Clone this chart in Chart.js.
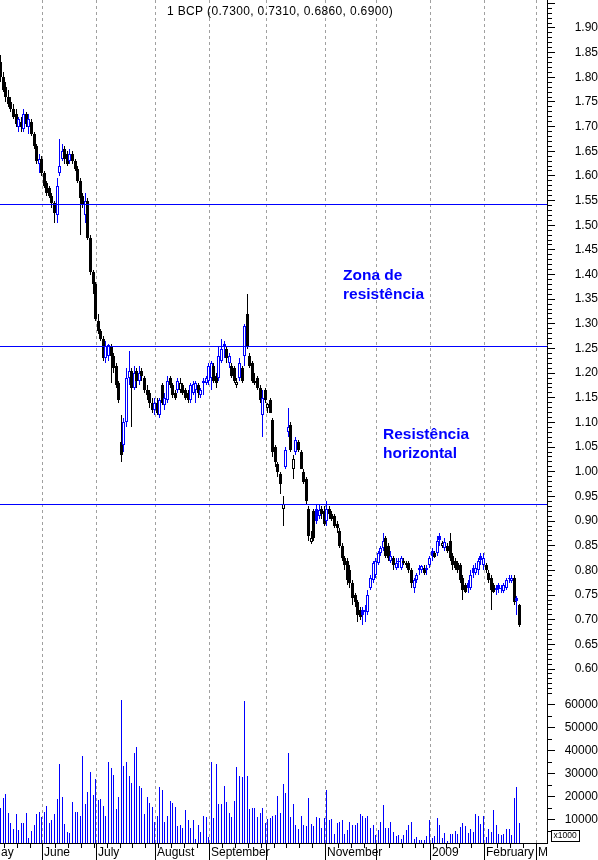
<!DOCTYPE html>
<html lang="pt">
<head>
<meta charset="utf-8">
<title>BCP</title>
<script src="https://cdn.jsdelivr.net/npm/chart.js@4.4.1/dist/chart.umd.min.js"></script>
<style>
  html, body { margin: 0; padding: 0; background: #ffffff; }
  #stage { position: relative; width: 598px; height: 860px; overflow: hidden; background: #ffffff; }
  #price { position: absolute; left: 0; top: 0; }
  #volume { position: absolute; left: 0; top: 690px; }
</style>
</head>
<body>
<div id="stage">
  <canvas id="price" width="598" height="690"></canvas>
  <canvas id="volume" width="598" height="170"></canvas>
</div>
<script>
// ---- daily BCP quotes, one entry per trading session (May 2008 - Feb 2009) ----
const ticker = '1 BCP';

const open = [
  1.83, 1.80, 1.78, 1.76, 1.75, 1.735, 1.725, 1.70, 1.71, 1.695,
  1.725, 1.70, 1.71, 1.685, 1.66, 1.625, 1.635, 1.605, 1.585, 1.575,
  1.56, 1.545, 1.52, 1.605, 1.635, 1.655, 1.645, 1.63, 1.645, 1.63,
  1.615, 1.59, 1.56, 1.52, 1.55, 1.475, 1.405, 1.38, 1.305, 1.285,
  1.27, 1.23, 1.235, 1.255, 1.235, 1.215, 1.18, 1.06, 1.055, 1.10,
  1.19, 1.205, 1.17, 1.205, 1.185, 1.205, 1.19, 1.165, 1.16, 1.14,
  1.125, 1.14, 1.115, 1.175, 1.135, 1.145, 1.19, 1.175, 1.16, 1.165,
  1.165, 1.175, 1.165, 1.16, 1.145, 1.16, 1.165, 1.175, 1.155, 1.185,
  1.18, 1.185, 1.19, 1.215, 1.195, 1.19, 1.225, 1.26, 1.25, 1.22,
  1.215, 1.21, 1.175, 1.19, 1.21, 1.235, 1.32, 1.235, 1.22, 1.18,
  1.19, 1.17, 1.115, 1.165, 1.13, 1.145, 1.105, 1.05, 1.015, 0.995,
  0.925, 1.01, 1.08, 1.095, 1.005, 1.04, 1.06, 1.04, 1.00, 0.985,
  0.925, 0.858, 0.92, 0.925, 0.91, 0.925, 0.92, 0.90, 0.925, 0.915,
  0.91, 0.895, 0.88, 0.85, 0.825, 0.82, 0.80, 0.775, 0.75, 0.735,
  0.72, 0.72, 0.72, 0.715, 0.765, 0.78, 0.79, 0.815, 0.835, 0.845,
  0.865, 0.85, 0.82, 0.825, 0.805, 0.82, 0.805, 0.82, 0.815, 0.815,
  0.80, 0.765, 0.78, 0.80, 0.80, 0.805, 0.805, 0.81, 0.84, 0.835,
  0.835, 0.87, 0.85, 0.845, 0.85, 0.86, 0.83, 0.82, 0.815, 0.81,
  0.785, 0.77, 0.775, 0.765, 0.805, 0.795, 0.80, 0.83, 0.81, 0.81,
  0.795, 0.785, 0.77, 0.765, 0.77, 0.765, 0.758, 0.765, 0.785, 0.778,
  0.785, 0.745, 0.73
];

const high = [
  1.845, 1.81, 1.79, 1.775, 1.76, 1.745, 1.735, 1.72, 1.72, 1.735,
  1.73, 1.725, 1.715, 1.69, 1.665, 1.645, 1.64, 1.61, 1.59, 1.58,
  1.565, 1.55, 1.595, 1.675, 1.665, 1.66, 1.65, 1.655, 1.65, 1.635,
  1.62, 1.595, 1.565, 1.565, 1.555, 1.48, 1.41, 1.385, 1.32, 1.29,
  1.275, 1.265, 1.26, 1.26, 1.24, 1.22, 1.185, 1.115, 1.11, 1.21,
  1.245, 1.21, 1.215, 1.21, 1.215, 1.21, 1.195, 1.175, 1.165, 1.15,
  1.15, 1.15, 1.15, 1.18, 1.16, 1.195, 1.195, 1.18, 1.165, 1.19,
  1.19, 1.18, 1.17, 1.165, 1.18, 1.185, 1.185, 1.18, 1.17, 1.19,
  1.195, 1.22, 1.225, 1.22, 1.20, 1.255, 1.27, 1.265, 1.255, 1.24,
  1.22, 1.215, 1.19, 1.23, 1.215, 1.30, 1.36, 1.24, 1.225, 1.20,
  1.195, 1.175, 1.165, 1.17, 1.14, 1.15, 1.11, 1.055, 1.02, 1.00,
  0.95, 1.05, 1.13, 1.10, 1.035, 1.07, 1.065, 1.045, 1.005, 0.99,
  0.93, 0.88, 0.925, 0.935, 0.935, 0.93, 0.93, 0.94, 0.93, 0.92,
  0.915, 0.90, 0.885, 0.855, 0.83, 0.825, 0.81, 0.78, 0.755, 0.74,
  0.725, 0.725, 0.73, 0.76, 0.79, 0.82, 0.825, 0.84, 0.85, 0.875,
  0.87, 0.855, 0.84, 0.83, 0.825, 0.825, 0.83, 0.825, 0.82, 0.82,
  0.805, 0.785, 0.795, 0.81, 0.81, 0.81, 0.81, 0.83, 0.845, 0.84,
  0.87, 0.875, 0.86, 0.865, 0.855, 0.875, 0.835, 0.825, 0.82, 0.815,
  0.79, 0.775, 0.78, 0.80, 0.81, 0.815, 0.825, 0.835, 0.835, 0.815,
  0.80, 0.79, 0.775, 0.77, 0.775, 0.77, 0.775, 0.785, 0.79, 0.79,
  0.79, 0.748, 0.731
];

const low = [
  1.79, 1.77, 1.75, 1.74, 1.73, 1.715, 1.70, 1.69, 1.69, 1.69,
  1.70, 1.685, 1.68, 1.655, 1.625, 1.605, 1.60, 1.575, 1.56, 1.555,
  1.535, 1.505, 1.505, 1.60, 1.63, 1.625, 1.62, 1.625, 1.625, 1.61,
  1.585, 1.48, 1.535, 1.505, 1.47, 1.40, 1.36, 1.305, 1.28, 1.265,
  1.225, 1.22, 1.225, 1.18, 1.20, 1.17, 1.14, 1.02, 1.04, 1.09,
  1.175, 1.09, 1.165, 1.17, 1.175, 1.185, 1.16, 1.145, 1.13, 1.12,
  1.115, 1.115, 1.11, 1.135, 1.125, 1.14, 1.17, 1.15, 1.145, 1.16,
  1.16, 1.155, 1.145, 1.14, 1.14, 1.155, 1.14, 1.15, 1.15, 1.155,
  1.175, 1.175, 1.165, 1.18, 1.17, 1.185, 1.22, 1.23, 1.22, 1.21,
  1.19, 1.18, 1.17, 1.185, 1.18, 1.215, 1.25, 1.21, 1.18, 1.175,
  1.165, 1.14, 1.07, 1.14, 1.12, 1.12, 1.03, 1.01, 0.99, 0.955,
  0.89, 1.005, 1.07, 1.04, 0.985, 1.035, 1.04, 1.005, 0.975, 0.935,
  0.86, 0.853, 0.86, 0.895, 0.905, 0.905, 0.89, 0.89, 0.905, 0.90,
  0.885, 0.875, 0.845, 0.82, 0.80, 0.77, 0.765, 0.73, 0.725, 0.695,
  0.70, 0.69, 0.695, 0.71, 0.76, 0.775, 0.785, 0.81, 0.83, 0.84,
  0.825, 0.82, 0.815, 0.80, 0.80, 0.805, 0.80, 0.81, 0.805, 0.795,
  0.765, 0.755, 0.775, 0.79, 0.795, 0.79, 0.79, 0.805, 0.82, 0.825,
  0.83, 0.85, 0.845, 0.84, 0.835, 0.82, 0.80, 0.80, 0.795, 0.775,
  0.74, 0.755, 0.755, 0.76, 0.785, 0.79, 0.79, 0.81, 0.80, 0.795,
  0.775, 0.72, 0.755, 0.75, 0.755, 0.755, 0.755, 0.76, 0.775, 0.775,
  0.73, 0.71, 0.686
];

const close = [
  1.80, 1.775, 1.76, 1.745, 1.735, 1.72, 1.705, 1.715, 1.70, 1.725,
  1.705, 1.715, 1.685, 1.66, 1.63, 1.635, 1.605, 1.58, 1.565, 1.56,
  1.545, 1.525, 1.58, 1.62, 1.65, 1.635, 1.625, 1.645, 1.63, 1.615,
  1.59, 1.555, 1.54, 1.55, 1.475, 1.405, 1.38, 1.31, 1.285, 1.27,
  1.23, 1.255, 1.258, 1.235, 1.21, 1.175, 1.145, 1.035, 1.10, 1.19,
  1.205, 1.17, 1.20, 1.185, 1.20, 1.195, 1.165, 1.155, 1.14, 1.125,
  1.14, 1.12, 1.145, 1.14, 1.15, 1.185, 1.175, 1.155, 1.15, 1.185,
  1.18, 1.16, 1.15, 1.145, 1.175, 1.178, 1.18, 1.16, 1.165, 1.18,
  1.19, 1.215, 1.22, 1.185, 1.18, 1.235, 1.25, 1.255, 1.23, 1.235,
  1.195, 1.185, 1.182, 1.22, 1.185, 1.295, 1.255, 1.215, 1.185, 1.184,
  1.17, 1.145, 1.15, 1.145, 1.138, 1.12, 1.04, 1.02, 1.00, 0.975,
  0.935, 1.045, 1.09, 1.045, 1.025, 1.065, 1.045, 1.005, 0.98, 0.94,
  0.87, 0.866, 0.865, 0.90, 0.922, 0.915, 0.895, 0.925, 0.915, 0.905,
  0.89, 0.885, 0.85, 0.825, 0.81, 0.78, 0.775, 0.745, 0.735, 0.71,
  0.705, 0.71, 0.715, 0.75, 0.785, 0.815, 0.82, 0.835, 0.845, 0.86,
  0.83, 0.825, 0.83, 0.81, 0.815, 0.818, 0.825, 0.815, 0.81, 0.80,
  0.775, 0.78, 0.79, 0.805, 0.808, 0.795, 0.80, 0.825, 0.83, 0.828,
  0.86, 0.862, 0.855, 0.858, 0.84, 0.825, 0.81, 0.805, 0.80, 0.78,
  0.76, 0.757, 0.765, 0.79, 0.795, 0.805, 0.82, 0.822, 0.825, 0.80,
  0.78, 0.76, 0.757, 0.76, 0.762, 0.764, 0.77, 0.78, 0.782, 0.785,
  0.735, 0.738, 0.69
];

// traded volume, in thousands of shares
const volume = [
  15400, 19400, 21500, 13200, 8600, 6000, 12500, 5500, 8800, 8600,
  13200, 2000, 5400, 8000, 12500, 13600, 11200, 13600, 16200, 8800,
  9900, 12800, 19000, 34500, 20100, 8400, 4900, 4500, 18000, 13600,
  13600, 11900, 38000, 17100, 22000, 30700, 20700, 28000, 18500, 19100,
  16200, 11900, 35400, 32800, 29700, 14600, 20100, 62300, 33600, 35400,
  29300, 26000, 39300, 41900, 24900, 24100, 12800, 20100, 17500, 15800,
  9300, 11900, 24500, 22900, 9300, 11900, 18400, 17500, 15800, 7500,
  8000, 6700, 14500, 10100, 6700, 10100, 1900, 8000, 4900, 11900,
  11400, 2800, 35400, 11000, 34500, 17100, 17100, 24900, 18000, 13200,
  11400, 18400, 33200, 29300, 28800, 61900, 29300, 14900, 15400, 15400,
  11400, 13200, 15400, 8600, 10600, 11000, 11900, 12300, 20600, 13200,
  25800, 21900, 39300, 11400, 17100, 8000, 6200, 11900, 8000, 7500,
  19700, 8400, 7500, 11400, 11000, 6700, 11000, 23200, 10100, 10600,
  4100, 8800, 9300, 10100, 4100, 5800, 9300, 8000, 8000, 8800,
  12800, 11900, 11000, 11900, 6700, 8000, 3600, 5800, 9300, 16700,
  6700, 6700, 9300, 4900, 3200, 3600, 1900, 3600, 5800, 8000,
  9300, 1900, 2800, 1200, 1500, 1300, 3200, 10100, 2300, 3200,
  11000, 8000, 2300, 4500, 1000, 4100, 4100, 5400, 4100, 7100,
  8800, 7500, 4500, 6200, 4900, 12800, 11900, 8400, 11900, 2800,
  6200, 4900, 14500, 8000, 4100, 3600, 4100, 6200, 6200, 3600,
  19700, 24500, 8800
];

// session index of the first trading day of each month, and its name
const monthStarts = [-4, 17, 38, 61, 82, 104, 127, 147, 168, 189, 209];
const monthNames = ['May', 'June', 'July', 'August', 'September', 'October',
                    'November', 'December', '2009', 'February', 'March'];
// session index of the first trading day of each week
const weekStarts = [2, 7, 12, 17, 22, 27, 32, 37, 42, 47, 52, 57, 62, 67, 72, 77, 82, 87,
                    92, 97, 102, 107, 112, 117, 122, 127, 132, 137, 142, 147, 152, 157,
                    162, 165, 169, 174, 179, 184, 189, 194, 199, 204, 209];

const priceTicks = [0.60, 0.65, 0.70, 0.75, 0.80, 0.85, 0.90, 0.95, 1.00, 1.05, 1.10, 1.15, 1.20,
                    1.25, 1.30, 1.35, 1.40, 1.45, 1.50, 1.55, 1.60, 1.65, 1.70, 1.75, 1.80, 1.85, 1.90];
const volumeTicks = [10000, 20000, 30000, 40000, 50000, 60000];
const volumeUnit = 'x1000';

// horizontal resistance levels
const resistanceLevels = [1.5415, 1.255, 0.933];
const zoneNote = ['Zona de', 'resistência'];
const levelNote = ['Resistência', 'horizontal'];

// ---- styling ----
const FONT = '"Liberation Sans", Arial, Helvetica, sans-serif';
const BLUE = '#0000ff';
const BLACK = '#000000';
const GRID = '#a0a0a0';
const X_MIN = -0.243, X_MAX = 212.75;
const AXIS_W = 51;

const last = close.length - 1;
const titleText = ticker + ' (' + [open[last], high[last], low[last], close[last]]
  .map(v => v.toFixed(4)).join(', ') + ')';

// blue when the close is above the previous close, hollow when close > open
const candleColor = close.map((c, i) => (i > 0 ? c > close[i - 1] : c > open[i]) ? BLUE : BLACK);
const bodyFill = close.map((c, i) => c > open[i] ? '#ffffff' : candleColor[i]);
const wickData = open.map((_, i) => ({ x: i, y: [low[i], high[i]] }));
const bodyData = open.map((o, i) => ({ x: i, y: [Math.min(o, close[i]), Math.max(o, close[i])] }));
const volumeData = volume.map((v, i) => ({ x: i, y: v }));

const monthLines = monthStarts.map(m => m - 0.5);
const weekLines = weekStarts.map(m => m - 0.5);
const inRange = v => v >= X_MIN && v <= X_MAX;
const timeTicks = Array.from(new Set(weekLines.concat(monthLines))).filter(inRange).sort((a, b) => a - b);

// keep bars on whole pixels so thin marks stay crisp
const snapPlugin = {
  id: 'snap',
  beforeDatasetsDraw(chart) {
    chart.getSortedVisibleDatasetMetas().forEach(meta => {
      if (meta.type !== 'bar') return;
      meta.data.forEach(el => {
        el.x = Math.floor(el.x) + 0.5;
        const top = Math.round(el.y);
        let base = Math.round(el.base);
        if (Math.abs(base - top) < 1) base = top + 1;
        el.y = top;
        el.base = base;
      });
    });
  }
};

// resistance levels, drawn across the whole price panel
const levelPlugin = {
  id: 'levels',
  afterDatasetsDraw(chart) {
    const { ctx, chartArea: a, scales: { y } } = chart;
    ctx.save();
    ctx.fillStyle = BLUE;
    resistanceLevels.forEach(lv => {
      const py = Math.round(y.getPixelForValue(lv) - 0.5);
      ctx.fillRect(a.left, py, a.right - a.left, 1);
    });
    ctx.restore();
  }
};

const priceDecor = {
  id: 'priceDecor',
  afterDraw(chart) {
    const { ctx, chartArea: a, scales: { y } } = chart;
    ctx.save();
    ctx.fillStyle = BLACK;
    // minor ticks every 0.01
    for (let k = 50; k <= 200; k++) {
      const v = k / 100;
      if (v < y.min || v > y.max) continue;
      if (priceTicks.some(t => Math.abs(t - v) < 1e-9)) continue;
      const len = (k % 5 === 0) ? 8 : 5;
      ctx.fillRect(a.right, Math.round(y.getPixelForValue(v) - 0.5), len, 1);
    }
    // series caption
    ctx.font = '12px ' + FONT;
    if ('letterSpacing' in ctx) ctx.letterSpacing = '0.35px';
    ctx.textAlign = 'center';
    ctx.textBaseline = 'middle';
    ctx.fillText(titleText, 280, 12);
    if ('letterSpacing' in ctx) ctx.letterSpacing = '0px';
    // notes
    ctx.fillStyle = BLUE;
    ctx.font = 'bold 15.5px ' + FONT;
    ctx.textAlign = 'left';
    ctx.textBaseline = 'alphabetic';
    ctx.fillText(zoneNote[0], 343, 280);
    ctx.fillText(zoneNote[1], 343, 298.5);
    ctx.fillText(levelNote[0], 383, 439);
    ctx.fillText(levelNote[1], 383, 457.5);
    ctx.restore();
  }
};

const volumeDecor = {
  id: 'volumeDecor',
  afterDraw(chart) {
    const { ctx, chartArea: a, scales: { x, y } } = chart;
    const H = chart.height;
    ctx.save();
    ctx.fillStyle = BLACK;
    for (let v = 5000; v <= y.max; v += 10000) {
      ctx.fillRect(a.right, Math.round(y.getPixelForValue(v) - 0.5), 5, 1);
    }
    // unit box
    ctx.fillStyle = '#ffffff';
    ctx.fillRect(a.right + 4, 140, 28, 11);
    ctx.strokeStyle = BLACK;
    ctx.lineWidth = 1;
    ctx.strokeRect(a.right + 4.5, 140.5, 28, 11);
    ctx.fillStyle = BLACK;
    ctx.font = '8.5px ' + FONT;
    ctx.textAlign = 'left';
    ctx.textBaseline = 'middle';
    ctx.fillText(volumeUnit, a.right + 6.5, 146);
    ctx.restore();

    // month separators and names under the time axis
    ctx.save();
    ctx.beginPath();
    ctx.rect(0, a.bottom, a.right, H - a.bottom);
    ctx.clip();
    ctx.fillStyle = BLACK;
    ctx.font = '12px ' + FONT;
    ctx.textAlign = 'left';
    ctx.textBaseline = 'middle';
    let lastEnd = -Infinity;
    monthLines.forEach((m, k) => {
      const px = x.getPixelForValue(m);
      const lx = Math.round(px - 0.5);
      ctx.fillRect(lx, a.bottom, 1, H - a.bottom);
      if (px >= lastEnd) {
        const tx = lx + 2;
        ctx.fillText(monthNames[k], tx, a.bottom + 10);
        lastEnd = tx + ctx.measureText(monthNames[k]).width;
      }
    });
    ctx.restore();
  }
};

const common = {
  responsive: false,
  maintainAspectRatio: false,
  animation: false,
  devicePixelRatio: 1,
  events: [],
  layout: { padding: 0, autoPadding: false },
  plugins: { legend: { display: false }, tooltip: { enabled: false }, title: { display: false } }
};

new Chart(document.getElementById('price'), {
  type: 'bar',
  data: {
    datasets: [
      {
        data: bodyData, backgroundColor: bodyFill, borderColor: candleColor,
        borderWidth: 1, borderSkipped: false, barThickness: 3, grouped: false,
        inflateAmount: 0, order: 1
      },
      {
        data: wickData, backgroundColor: candleColor, borderWidth: 0,
        barThickness: 1, grouped: false, inflateAmount: 0, order: 2
      }
    ]
  },
  options: {
    ...common,
    scales: {
      x: {
        type: 'linear', min: X_MIN, max: X_MAX, offset: false, position: 'bottom',
        afterBuildTicks(s) { s.ticks = monthLines.filter(inRange).map(v => ({ value: v })); },
        ticks: { display: false, autoSkip: false },
        grid: { display: true, drawOnChartArea: true, drawTicks: false, color: GRID, lineWidth: 1, offset: false },
        border: { display: false, dash: [3, 3] },
        afterFit(s) { s.height = 0; s.paddingLeft = 0; s.paddingRight = 0; }
      },
      y: {
        type: 'linear', position: 'right', min: 0.5575, max: 1.9567, beginAtZero: false, bounds: 'data',
        afterBuildTicks(s) { s.ticks = priceTicks.map(v => ({ value: v })); },
        ticks: {
          autoSkip: false, color: BLACK, padding: 16, crossAlign: 'far',
          font: { family: FONT, size: 12 },
          callback: v => Number(v).toFixed(2)
        },
        grid: { drawOnChartArea: false, drawTicks: true, tickLength: 8, tickColor: BLACK, tickWidth: 1 },
        border: { display: true, color: BLACK, width: 1 },
        afterFit(s) { s.width = AXIS_W; s.paddingTop = 0; s.paddingBottom = 0; }
      }
    }
  },
  plugins: [snapPlugin, levelPlugin, priceDecor]
});

new Chart(document.getElementById('volume'), {
  type: 'bar',
  data: {
    datasets: [{
      data: volumeData, backgroundColor: BLUE, borderWidth: 0,
      barThickness: 1, grouped: false, inflateAmount: 0
    }]
  },
  options: {
    ...common,
    scales: {
      x: {
        type: 'linear', min: X_MIN, max: X_MAX, offset: false, position: 'bottom',
        afterBuildTicks(s) { s.ticks = timeTicks.map(v => ({ value: v })); },
        ticks: { display: false, autoSkip: false },
        grid: {
          display: true, drawOnChartArea: true, drawTicks: true, tickLength: 5,
          tickColor: BLACK, tickWidth: 1, lineWidth: 1, offset: false,
          color: c => (c.tick && monthLines.includes(c.tick.value)) ? GRID : 'rgba(0,0,0,0)'
        },
        border: { display: true, color: BLACK, width: 1, dash: [3, 3] },
        afterFit(s) { s.height = 17; s.paddingLeft = 0; s.paddingRight = 0; }
      },
      y: {
        type: 'linear', position: 'right', min: 0, max: 66500, bounds: 'data',
        afterBuildTicks(s) { s.ticks = volumeTicks.map(v => ({ value: v })); },
        ticks: {
          autoSkip: false, color: BLACK, padding: 6, crossAlign: 'far',
          font: { family: FONT, size: 12 },
          callback: v => String(v)
        },
        grid: { drawOnChartArea: false, drawTicks: true, tickLength: 8, tickColor: BLACK, tickWidth: 1 },
        border: { display: true, color: BLACK, width: 1 },
        afterFit(s) { s.width = AXIS_W; s.paddingTop = 0; s.paddingBottom = 0; }
      }
    }
  },
  plugins: [snapPlugin, volumeDecor]
});
</script>
</body>
</html>
